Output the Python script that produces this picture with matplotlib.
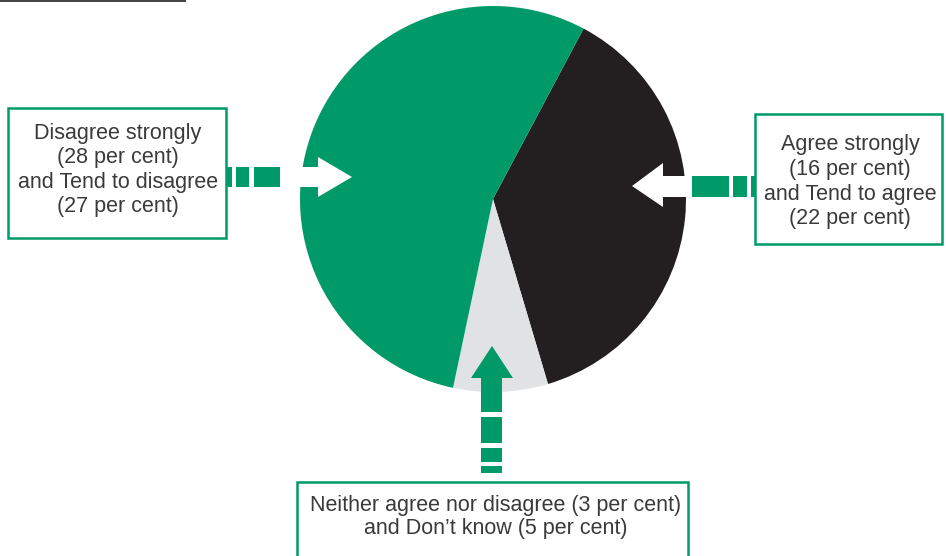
import matplotlib.pyplot as plt
from matplotlib.patches import Polygon, Rectangle

# shares of the pie (per cent), drawn clockwise from the top-right
groups = ['Agree', 'Neither / Don\u2019t know', 'Disagree']
shares = [16 + 22, 3 + 5, 28 + 27]
colors = ['#231f20', '#e1e2e4', '#009a69']

left_text = ['Disagree strongly', '(28 per cent)',
             'and Tend to disagree', '(27 per cent)']
right_text = ['Agree strongly', '(16 per cent)',
              'and Tend to agree', '(22 per cent)']
bottom_text = ['Neither agree nor disagree (3 per cent)',
               'and Don\u2019t know (5 per cent)']

GREEN = '#009a69'
TXT = '#3a3a3a'
FONT = 'Liberation Sans'

fig = plt.figure(figsize=(9.46, 5.56), dpi=100)
ax = fig.add_axes([0, 0, 1, 1])
# y axis runs downwards (pixel-like), so counterclock=True draws clockwise
ax.pie(shares, colors=colors, center=(493, 199), radius=193,
       startangle=-62, counterclock=True, frame=True,
       wedgeprops=dict(linewidth=0))
ax.set_xlim(0, 946)
ax.set_ylim(556, 0)
ax.set_aspect('equal')
ax.axis('off')

# rule at the top left
ax.plot([0, 186], [1, 1], color='#231f20', lw=1.2, solid_capstyle='butt')


def hbox(x0, x1, y0, y1):
    ax.add_patch(Rectangle((x0, y0), x1 - x0, y1 - y0, facecolor='white',
                           edgecolor=GREEN, lw=1.8, zorder=3))


def lines(cx, baselines, texts):
    for y, s in zip(baselines, texts):
        ax.text(cx, y, s, ha='center', va='baseline', fontsize=15.5,
                color=TXT, family=FONT, zorder=5)


def dashes_h(segs, y0, y1):
    for a, b in segs:
        ax.add_patch(Rectangle((a, y0), b - a, y1 - y0, color=GREEN, lw=0, zorder=4))


def dashes_v(segs, x0, x1):
    for a, b in segs:
        ax.add_patch(Rectangle((x0, a), x1 - x0, b - a, color=GREEN, lw=0, zorder=4))


# left box and arrow
hbox(8, 226, 108, 238)
lines(118, [139, 163, 188, 212], left_text)
dashes_h([(226, 232), (236, 249), (254, 280)], 167, 187)
ax.add_patch(Polygon([(295, 167), (318, 167), (318, 157), (352, 177),
                      (318, 197), (318, 187), (295, 187)],
                     closed=True, facecolor='white', lw=0, zorder=2))

# right box and arrow
hbox(755, 942, 114, 244)
lines(850, [150, 175, 200, 224], right_text)
dashes_h([(692, 729), (733, 747), (751, 755)], 176, 197)
ax.add_patch(Polygon([(692, 176), (663, 176), (663, 163), (632, 186),
                      (663, 207), (663, 197), (692, 197)],
                     closed=True, facecolor='white', lw=0, zorder=2))

# bottom box and arrow
hbox(297, 688, 482, 558)
lines(496, [511, 534], bottom_text)
ax.add_patch(Polygon([(481, 412), (481, 378), (471, 378), (492, 346),
                      (513, 378), (502, 378), (502, 412)],
                     closed=True, facecolor=GREEN, lw=0, zorder=2))
dashes_v([(417, 443), (448, 462), (466, 473)], 481, 502)

fig.savefig('out.png', dpi=100)
